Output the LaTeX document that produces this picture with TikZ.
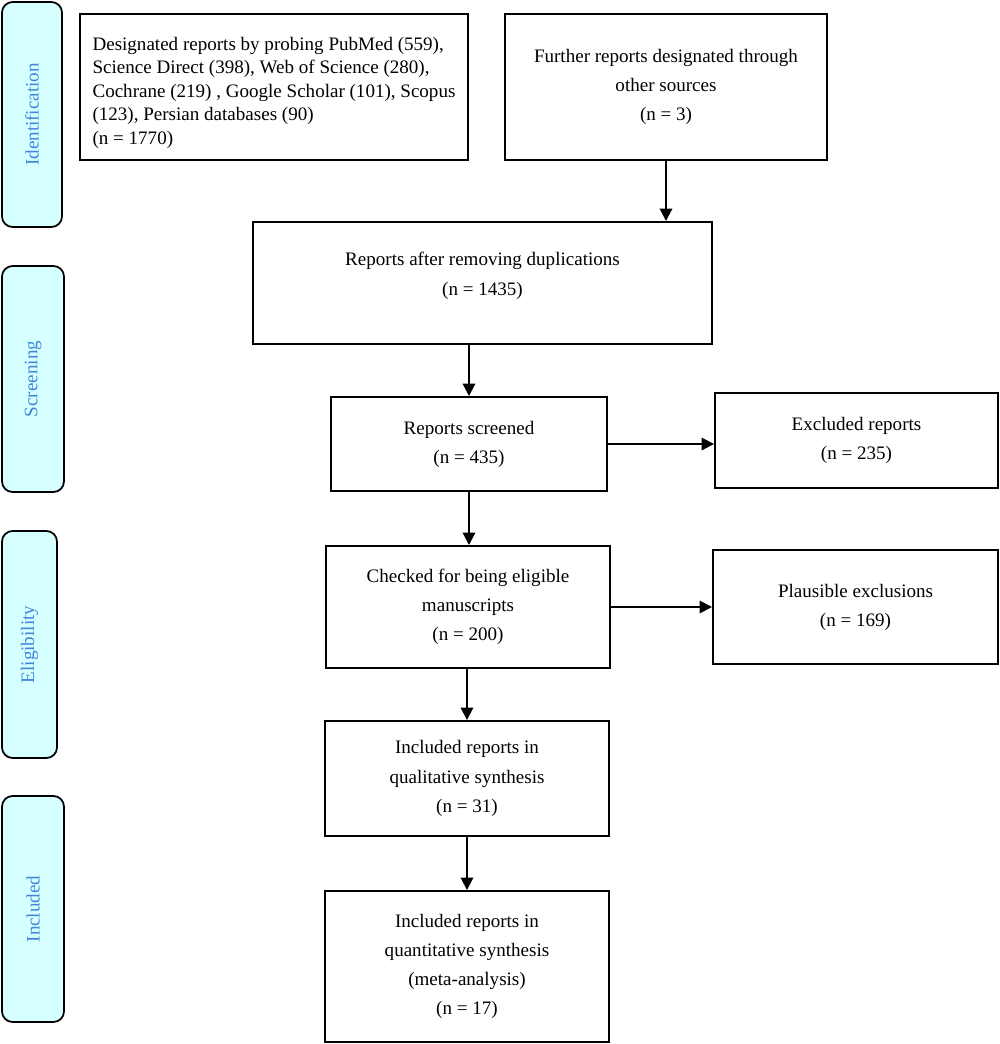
\documentclass[tikz,border=0pt]{standalone}
\usepackage{fontspec}
\setmainfont{Liberation Serif}
\usetikzlibrary{arrows.meta}
\definecolor{sidefill}{HTML}{D6FFFF}
\definecolor{sidetext}{HTML}{3F86DA}
\tikzset{
  pbox/.style={draw, line width=1.1pt, inner sep=0pt, align=center,
    font=\fontsize{10.8}{16.5}\selectfont},
  side/.style={draw, line width=1pt, rounded corners=6pt, fill=sidefill,
    inner sep=0pt, text=sidetext, font=\fontsize{10.8}{12}\selectfont},
  conn/.style={line width=1.1pt, -{Triangle[length=7pt,width=7pt]}}
}
\begin{document}
\begin{tikzpicture}[x=0.567pt,y=-0.567pt]
\useasboundingbox (0,0) rectangle (1000,1044);
% side labels
\node[side, minimum width=60*0.567pt, minimum height=225*0.567pt] (s1) at (32,114.5) {\rotatebox{90}{Identification}};
\node[side, minimum width=62*0.567pt, minimum height=226*0.567pt] (s2) at (33,379) {\rotatebox{90}{Screening}};
\node[side, minimum width=55*0.567pt, minimum height=227*0.567pt] (s3) at (29.5,644.5) {\rotatebox{90}{Eligibility}};
\node[side, minimum width=62*0.567pt, minimum height=226*0.567pt] (s4) at (33,909) {\rotatebox{90}{Included}};
% boxes
\node[pbox, align=left, font=\fontsize{10.8}{13.3}\selectfont, minimum width=388*0.567pt, minimum height=146*0.567pt] (b1) at (274,87)
 {\rule{0pt}{14pt}Designated reports by probing PubMed (559),\\Science Direct (398), Web of Science (280),\\Cochrane (219) , Google Scholar (101), Scopus\\(123), Persian databases (90)\\(n = 1770)};
\node[pbox, minimum width=322*0.567pt, minimum height=146*0.567pt] (b2) at (666,87)
 {Further reports designated through\\other sources\\(n = 3)};
\node[pbox, minimum width=459*0.567pt, minimum height=122*0.567pt] (b3) at (482.5,283)
 {Reports after removing duplications\\(n = 1435)\\[-6pt]\mbox{}};
\node[pbox, minimum width=276*0.567pt, minimum height=94*0.567pt] (b4) at (469,444)
 {Reports screened\\(n = 435)};
\node[pbox, minimum width=283*0.567pt, minimum height=95*0.567pt] (b5) at (856.5,440.5)
 {Excluded reports\\(n = 235)};
\node[pbox, minimum width=284*0.567pt, minimum height=122*0.567pt] (b6) at (468,607)
 {Checked for being eligible\\manuscripts\\(n = 200)};
\node[pbox, minimum width=285*0.567pt, minimum height=114*0.567pt] (b7) at (855.5,607)
 {Plausible exclusions\\(n = 169)};
\node[pbox, minimum width=284*0.567pt, minimum height=115*0.567pt] (b8) at (467,778.5)
 {Included reports in\\qualitative synthesis\\(n = 31)};
\node[pbox, minimum width=284*0.567pt, minimum height=151*0.567pt] (b9) at (467,966.5)
 {Included reports in\\quantitative synthesis\\(meta-analysis)\\(n = 17)};
% connectors
\draw[conn] (b2.south) -- (b2.south |- b3.north);
\draw[conn] (b4.north |- b3.south) -- (b4.north);
\draw[conn] (b4.south) -- (b4.south |- b6.north);
\draw[conn] (b4.east) -- (b4.east -| b5.west);
\draw[conn] (b6.east) -- (b6.east -| b7.west);
\draw[conn] (b8.north |- b6.south) -- (b8.north);
\draw[conn] (b8.south) -- (b9.north);
\end{tikzpicture}
\end{document}
